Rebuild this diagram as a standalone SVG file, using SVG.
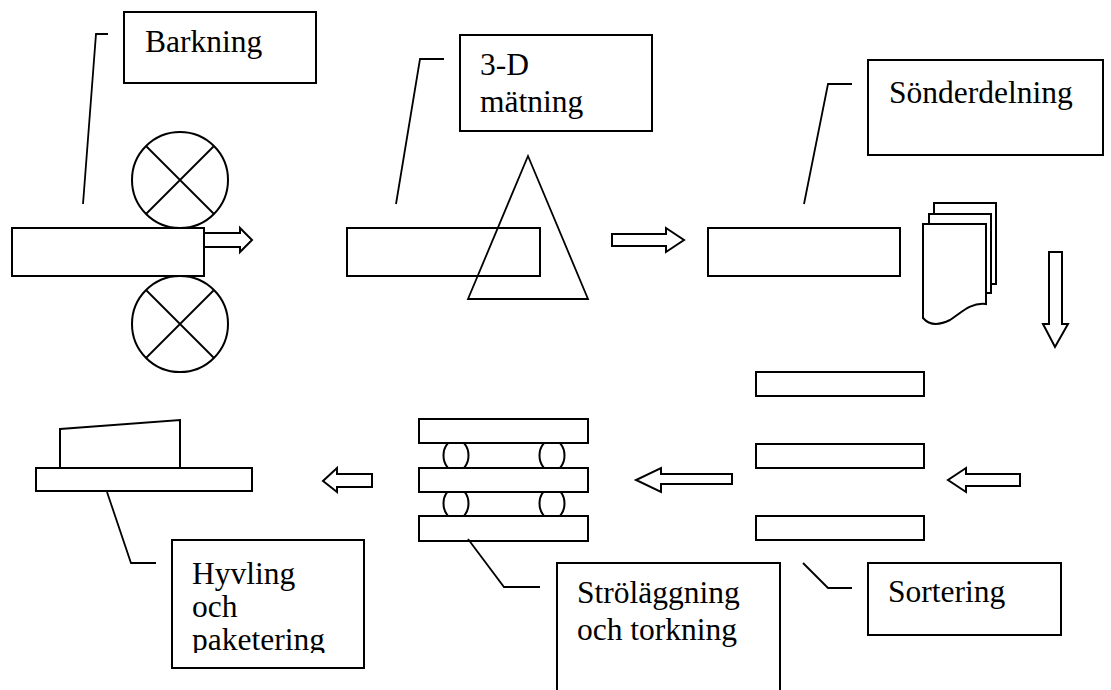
<svg xmlns="http://www.w3.org/2000/svg" width="1111" height="690" viewBox="0 0 1111 690">
<style>
.s{fill:#fff;stroke:#000;stroke-width:2}
.ln{fill:none;stroke:#000;stroke-width:1.8}
text{font-family:'Liberation Serif','DejaVu Serif',serif;font-size:31.5px;fill:#000}
</style>
<defs>
<clipPath id="clipHyv"><rect x="172" y="540" width="192" height="113"/></clipPath>
</defs>
<rect width="1111" height="690" fill="#fff"/>

<g id="barkning">
<circle class="s" cx="180" cy="180" r="48"/>
<path class="ln" d="M146,146 L214,214 M214,146 L146,214"/>
<circle class="s" cx="180" cy="324" r="48"/>
<path class="ln" d="M146,290 L214,358 M214,290 L146,358"/>
<rect class="s" x="12" y="228" width="192" height="48"/>
<rect class="s" x="124" y="12" width="192" height="71"/>
<text x="145" y="52" font-family="Liberation Serif">Barkning</text>
</g>

<g id="matning">
<rect class="s" x="347" y="228" width="193" height="48"/>
<polygon class="ln" points="528,156 588,299 468,299"/>
<rect class="s" x="460" y="35" width="192" height="96"/>
<text x="480" y="75" font-family="Liberation Serif">3-D</text>
<text x="480" y="112" font-family="Liberation Serif">mätning</text>
</g>

<g id="sonderdelning">
<rect class="s" x="708" y="228" width="192" height="48"/>
<polyline class="s" points="934,214 934,203 996,203 996,284 991,284"/>
<polyline class="s" points="929,224 929,214 991,214 991,293 986,293"/>
<path class="s" d="M923,224 H986 V304 C970,302 960,314 950,320 C940,325 930,326 923,318 Z"/>
<rect class="s" x="868" y="60" width="235" height="95"/>
<text x="889" y="103" font-family="Liberation Serif">Sönderdelning</text>
</g>

<g id="sortering">
<rect class="s" x="756" y="372" width="168" height="24"/>
<rect class="s" x="756" y="444" width="168" height="24"/>
<rect class="s" x="756" y="516" width="168" height="24"/>
<rect class="s" x="868" y="563" width="193" height="72"/>
<text x="888" y="602" font-family="Liberation Serif">Sortering</text>
</g>

<g id="strolaggning">
<ellipse class="s" cx="456" cy="455.5" rx="12.5" ry="16"/>
<ellipse class="s" cx="552" cy="455.5" rx="12.5" ry="16"/>
<ellipse class="s" cx="456" cy="503.5" rx="12.5" ry="16"/>
<ellipse class="s" cx="552" cy="503.5" rx="12.5" ry="16"/>
<rect class="s" x="419" y="419" width="169" height="24"/>
<rect class="s" x="419" y="468" width="169" height="24"/>
<rect class="s" x="419" y="516" width="169" height="25"/>
<rect class="s" x="557" y="563" width="223" height="140"/>
<text x="577" y="603" font-family="Liberation Serif">Ströläggning</text>
<text x="577" y="640" font-family="Liberation Serif">och torkning</text>
</g>

<g id="hyvling">
<polygon class="s" points="60,429 180,420 180,468 60,468"/>
<rect class="s" x="36" y="468" width="216" height="23"/>
<rect class="s" x="172" y="540" width="192" height="128"/>
<g clip-path="url(#clipHyv)">
<text x="192" y="584" font-family="Liberation Serif">Hyvling</text>
<text x="192" y="617" font-family="Liberation Serif">och</text>
<text x="192" y="650" font-family="Liberation Serif">paketering</text>
</g>
</g>

<g id="connectors">
<polyline class="ln" points="108,34 96,34 83,204"/>
<polyline class="ln" points="444,59 420,59 396,204"/>
<polyline class="ln" points="852,84 828,84 804,204"/>
<polyline class="ln" points="803,563 828,588 852,588"/>
<polyline class="ln" points="468,539 504,587 540,587"/>
<polyline class="ln" points="107,492 131,563 156,563"/>
<polygon class="s" points="204,233 240,233 240,228 252,240 240,252 240,247 204,247"/>
<polygon class="s" points="612,234 666,234 666,228 684,240 666,252 666,246 612,246"/>
<polygon class="s" points="1049,252 1062,252 1062,324 1068,324 1055,347 1043,324 1049,324"/>
<polygon class="s" points="1020,474 966,474 966,468 948,480 966,492 966,486 1020,486"/>
<polygon class="s" points="732,474 661,474 661,468 636,480 661,492 661,484 732,484"/>
<polygon class="s" points="372,474 337,474 337,468 323,481 337,492 337,487 372,487"/>
</g>
</svg>
